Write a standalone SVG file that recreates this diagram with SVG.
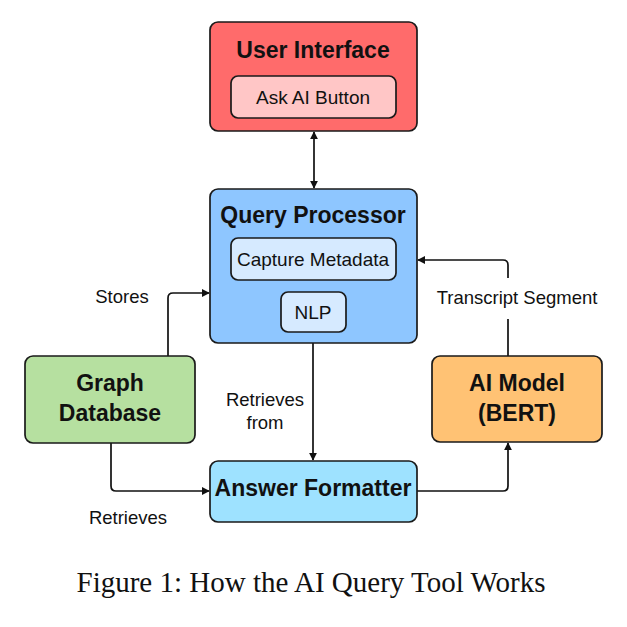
<svg xmlns="http://www.w3.org/2000/svg" width="627" height="627" viewBox="0 0 627 627">
<style>
.box{stroke:#1a1a1a;stroke-width:1.7}
.t{font-family:"Liberation Sans",Arial,sans-serif;font-weight:bold;font-size:23px;fill:#111;text-anchor:middle}
.s{font-family:"Liberation Sans",Arial,sans-serif;font-size:19px;fill:#111;text-anchor:middle}
.l{font-family:"Liberation Sans",Arial,sans-serif;font-size:18.5px;fill:#111;text-anchor:middle}
.c{fill:none;stroke:#111;stroke-width:1.7}
</style>
<defs>
<marker id="a" viewBox="0 0 10 10" refX="9" refY="5" markerWidth="8" markerHeight="8" orient="auto-start-reverse" markerUnits="userSpaceOnUse">
<path d="M0,0 L10,5 L0,10 z" fill="#111"/>
</marker>
</defs>
<rect width="627" height="627" fill="#fff"/>
<g id="connectors">
<path class="c" d="M314,132 V188" marker-start="url(#a)" marker-end="url(#a)"/>
<path class="c" d="M168,356 V298 Q168,293 173,293 H209" marker-end="url(#a)"/>
<path class="c" d="M111,443 V486 Q111,491 116,491 H209" marker-end="url(#a)"/>
<path class="c" d="M313,343 V460" marker-end="url(#a)"/>
<path class="c" d="M417,491 H503 Q508,491 508,486 V443" marker-end="url(#a)"/>
<path class="c" d="M508,356 V319 M508,278 V265 Q508,260 503,260 H418" marker-end="url(#a)"/>
<text class="l" x="122" y="303">Stores</text>
<text class="l" x="128" y="524">Retrieves</text>
<text class="l" x="265" y="406">Retrieves</text>
<text class="l" x="265" y="429">from</text>
<text class="l" x="517" y="304">Transcript Segment</text>
</g>
<g id="user-interface">
<rect class="box" x="210" y="22" width="207" height="109" rx="8" fill="#FF6B6B"/>
<text class="t" x="313" y="58">User Interface</text>
<rect class="box" x="231" y="76" width="165" height="42" rx="7" fill="#FFC6C6"/>
<text class="s" x="313" y="104">Ask AI Button</text>
</g>
<g id="query-processor">
<rect class="box" x="210" y="189" width="207" height="154" rx="8" fill="#8EC6FF"/>
<text class="t" x="313" y="223">Query Processor</text>
<rect class="box" x="231" y="238" width="165" height="42" rx="7" fill="#D6EAFF"/>
<text class="s" x="313" y="266">Capture Metadata</text>
<rect class="box" x="281" y="292" width="65" height="40" rx="7" fill="#D6EAFF"/>
<text class="s" x="313" y="319">NLP</text>
</g>
<g id="graph-database">
<rect class="box" x="25" y="356" width="170" height="87" rx="8" fill="#B6E0A0"/>
<text class="t" x="110" y="391">Graph</text>
<text class="t" x="110" y="421">Database</text>
</g>
<g id="ai-model">
<rect class="box" x="432" y="356" width="170" height="86" rx="8" fill="#FFC274"/>
<text class="t" x="517" y="391">AI Model</text>
<text class="t" x="517" y="421">(BERT)</text>
</g>
<g id="answer-formatter">
<rect class="box" x="210" y="461" width="207" height="61" rx="8" fill="#9EE2FF"/>
<text class="t" x="313" y="496">Answer Formatter</text>
</g>
<text x="311" y="592" font-family="Liberation Serif,'Times New Roman',serif" font-size="29" fill="#111" text-anchor="middle">Figure 1: How the AI Query Tool Works</text>
</svg>
